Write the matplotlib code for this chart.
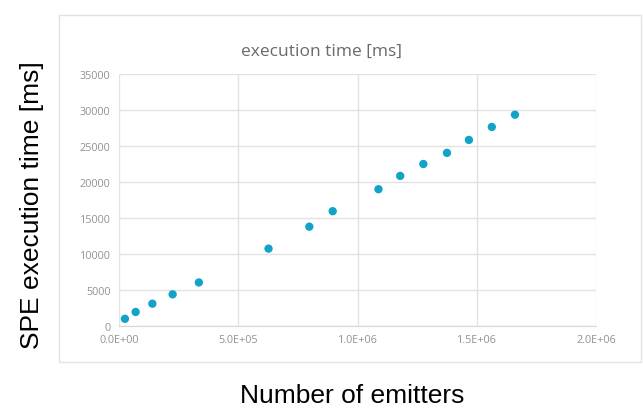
import matplotlib.pyplot as plt
from matplotlib.patches import Rectangle
from matplotlib.ticker import FuncFormatter, MultipleLocator

# number of emitters vs SPE execution time [ms]
emitters = [2.5e4, 7.0e4, 1.4e5, 2.25e5, 3.35e5, 6.27e5, 7.98e5, 8.96e5,
            1.088e6, 1.179e6, 1.276e6, 1.375e6, 1.467e6, 1.563e6, 1.66e6]
exec_ms = [1000, 1950, 3100, 4400, 6050, 10750, 13800, 15950,
           19000, 20850, 22500, 24050, 25850, 27650, 29350]

TICK_GRAY = "#939393"
GRID_GRAY = "#e2e2e2"
DOT = "#12a3c8"

fig = plt.figure(figsize=(6.43, 4.10), dpi=100)

# excel-like chart frame, kept behind the axes
frame = Rectangle((0.092, 0.115), 0.905, 0.846, transform=fig.transFigure,
                  facecolor="white", edgecolor="#e2e2e2", lw=1.0, zorder=-5)
fig.patches.append(frame)

ax = fig.add_axes([0.185, 0.2024, 0.742, 0.6146])
ax.patch.set_alpha(0)
ax.scatter(emitters, exec_ms, s=36, color=DOT, edgecolors="none", zorder=3)

ax.set_xlim(0, 2.0e6)
ax.set_ylim(0, 35000)
ax.xaxis.set_major_locator(MultipleLocator(5e5))
ax.yaxis.set_major_locator(MultipleLocator(5000))
ax.xaxis.set_major_formatter(FuncFormatter(lambda v, p: f"{v:.1E}"))

ax.grid(True, color=GRID_GRAY, lw=1.0)
ax.set_axisbelow(True)
for side in ["top", "right", "left"]:
    ax.spines[side].set_visible(False)
ax.spines["bottom"].set_color("#d6d6d6")
ax.tick_params(length=0, labelsize=7.8, colors=TICK_GRAY, pad=6)
for lbl in ax.get_xticklabels() + ax.get_yticklabels():
    lbl.set_fontfamily("Open Sans")

fig.text(0.5, 0.873, "execution time [ms]", ha="center", va="center",
         fontsize=12.5, color="#6a6a6a", family="Open Sans")

# outer labels
fig.text(0.05, 0.5, "SPE execution time [ms]", rotation=90, ha="center",
         va="center", fontsize=19, family="Liberation Sans")
fig.text(0.547, 0.035, "Number of emitters", ha="center", va="center",
         fontsize=19, family="Liberation Sans")

fig.savefig("out.png", dpi=100)
